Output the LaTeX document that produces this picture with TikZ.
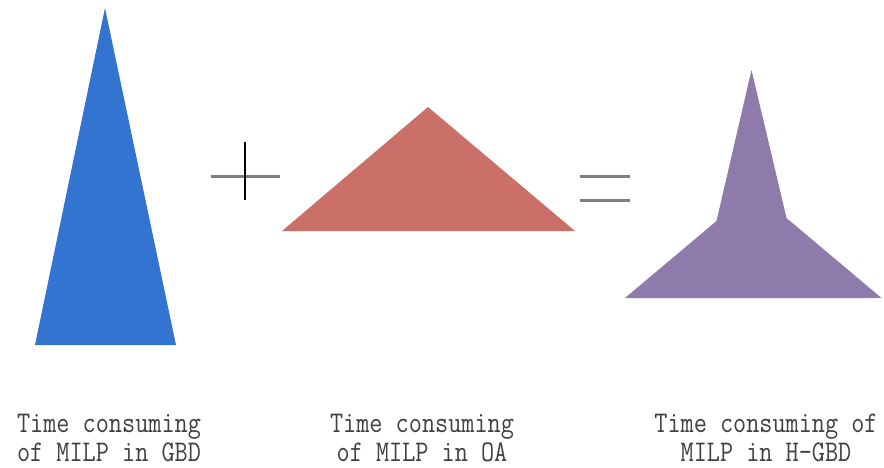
\documentclass[tikz,border=0pt]{standalone}
\usepackage{fontspec}
\usepackage{graphicx}
\definecolor{gbdblue}{HTML}{3374D1}
\definecolor{oared}{HTML}{CA7068}
\definecolor{hgbdpurple}{HTML}{8F7AAC}
\definecolor{opgray}{HTML}{7F7F7F}
\newcommand\narrowtext[1]{\scalebox{0.85}[1]{#1}}
\begin{document}
\begin{tikzpicture}[x=1pt,y=-1pt,
  captext/.style={font=\ttfamily\fontsize{30}{30}\selectfont, text=black!75, align=center, inner sep=0pt, anchor=base},
  opline/.style={draw=opgray, line width=3pt}]
\useasboundingbox (0,0) rectangle (884,467);
% shapes
\fill[gbdblue] (105,8) -- (176,345) -- (35,345) -- cycle;
\fill[oared] (428,107) -- (575,231) -- (282,231) -- cycle;
\fill[hgbdpurple] (751.5,70) -- (786.5,218) -- (881.5,298) -- (625,298) -- (716.5,221) -- cycle;
% plus
\draw[opline] (211,176) -- (280,176);
\draw[black, line width=1.4pt] (245,142) -- (245,200);
% equals
\draw[opline] (580,176) -- (630,176);
\draw[opline] (580,200) -- (630,200);
% captions
\node[captext] (t1a) at (109,432) {\narrowtext{Time consuming}};
\node[captext] (t1b) at (109,461) {\narrowtext{of MILP in GBD}};
\node[captext] (t2a) at (422,432) {\narrowtext{Time consuming}};
\node[captext] (t2b) at (422,461) {\narrowtext{of MILP in OA}};
\node[captext] (t3a) at (766,432) {\narrowtext{Time consuming of}};
\node[captext] (t3b) at (766,461) {\narrowtext{MILP in H-GBD}};
\end{tikzpicture}
\end{document}
